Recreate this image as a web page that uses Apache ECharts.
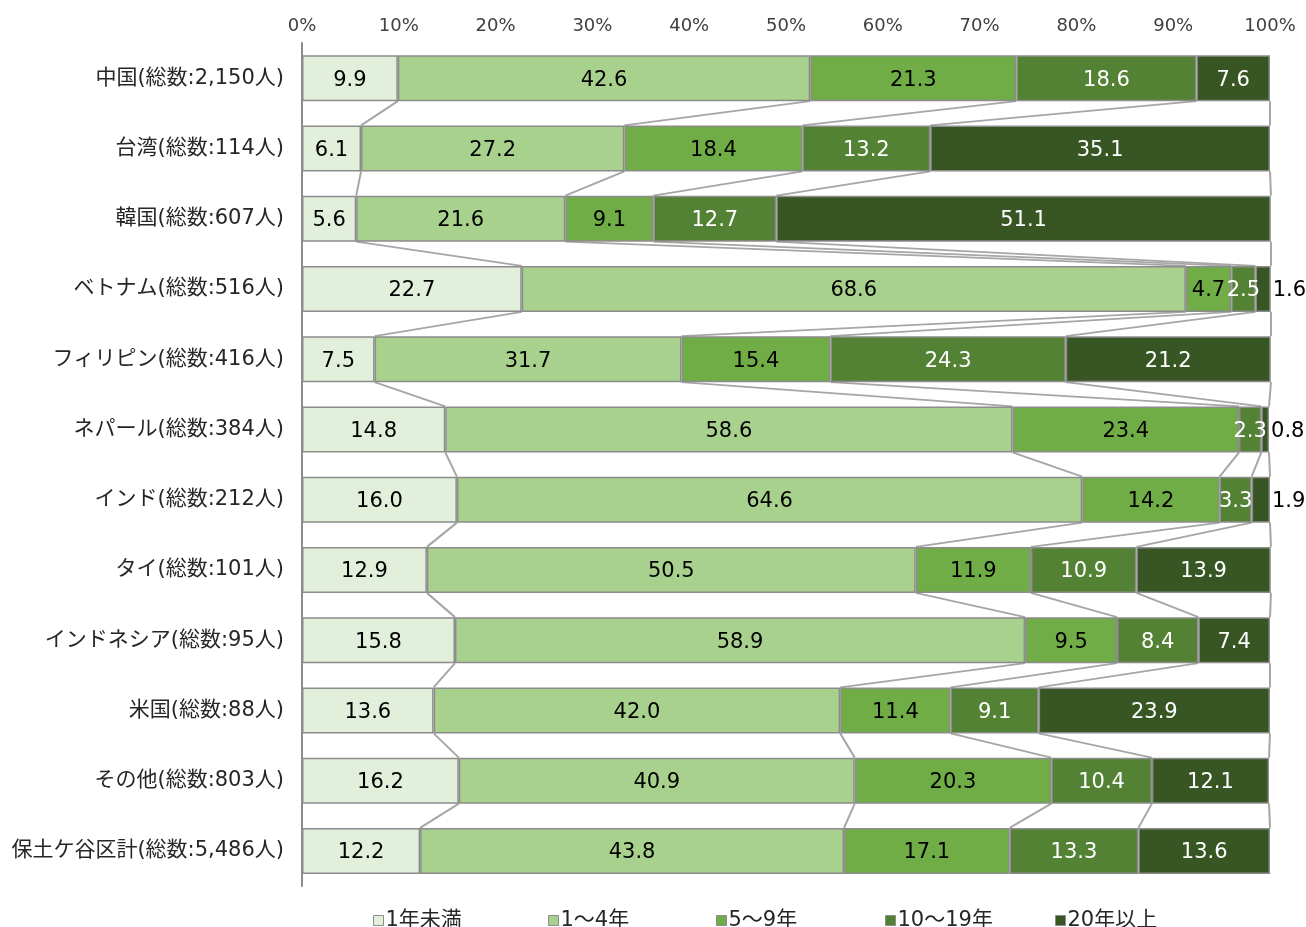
<!DOCTYPE html>
<html>
<head>
<meta charset="utf-8">
<script src="https://cdn.jsdelivr.net/npm/echarts@6/dist/echarts.min.js"></script>
<style>
  html, body { margin: 0; padding: 0; background: #fff; }
  #chart { width: 1306px; height: 927px; }
</style>
</head>
<body>
<div id="chart"></div>
<script>
// 在留期間別の構成比（％）
const categories = [
  '中国(総数:2,150人)', '台湾(総数:114人)', '韓国(総数:607人)', 'ベトナム(総数:516人)',
  'フィリピン(総数:416人)', 'ネパール(総数:384人)', 'インド(総数:212人)', 'タイ(総数:101人)',
  'インドネシア(総数:95人)', '米国(総数:88人)', 'その他(総数:803人)', '保土ケ谷区計(総数:5,486人)'
];
const seriesNames = ['1年未満', '1～4年', '5～9年', '10～19年', '20年以上'];
const lessThan1 = [9.9, 6.1, 5.6, 22.7, 7.5, 14.8, 16.0, 12.9, 15.8, 13.6, 16.2, 12.2];
const y1to4    = [42.6, 27.2, 21.6, 68.6, 31.7, 58.6, 64.6, 50.5, 58.9, 42.0, 40.9, 43.8];
const y5to9    = [21.3, 18.4, 9.1, 4.7, 15.4, 23.4, 14.2, 11.9, 9.5, 11.4, 20.3, 17.1];
const y10to19  = [18.6, 13.2, 12.7, 2.5, 24.3, 2.3, 3.3, 10.9, 8.4, 9.1, 10.4, 13.3];
const y20plus  = [7.6, 35.1, 51.1, 1.6, 21.2, 0.8, 1.9, 13.9, 7.4, 23.9, 12.1, 13.6];
const xTicks = [0, 10, 20, 30, 40, 50, 60, 70, 80, 90, 100];

const allValues = [lessThan1, y1to4, y5to9, y10to19, y20plus];
const colors = ['#E2EFDA', '#A9D18E', '#70AD47', '#548235', '#375623'];
const labelColors = ['#000', '#000', '#000', '#fff', '#fff'];
// rows whose last segment is too narrow: label sits outside the bar end
const outsideLast = new Set([3, 5, 6]);

const BAR_W = 46;
const TEXT_FONT = 'DejaVu Sans, Noto Sans CJK JP, sans-serif';

const barSeries = allValues.map((vals, s) => ({
  name: seriesNames[s],
  type: 'bar',
  stack: 'total',
  barWidth: BAR_W,
  itemStyle: { color: colors[s], borderColor: '#8C8C8C', borderWidth: 1.5 },
  label: {
    show: true,
    position: 'inside',
    color: labelColors[s],
    fontFamily: 'DejaVu Sans',
    fontSize: 21,
    offset: [0, 2],
    formatter: p => p.value.toFixed(1)
  },
  data: vals.map((v, i) => (s === 4 && outsideLast.has(i))
    ? { value: v, label: { position: 'right', distance: 2, color: '#000' } }
    : v)
}));

// connector lines between the segment boundaries of neighbouring bars
const cumulative = categories.map((_, i) => {
  let acc = 0;
  return allValues.map(vals => (acc += vals[i]));
});
const connectorData = [];
for (let i = 0; i < categories.length - 1; i++) {
  for (let k = 0; k < allValues.length; k++) {
    connectorData.push([cumulative[i][k], i, cumulative[i + 1][k], i + 1]);
  }
}

const connectorSeries = {
  type: 'custom',
  silent: true,
  z: 1,
  encode: { x: [0, 2], y: [1, 3] },
  data: connectorData,
  renderItem: (params, api) => {
    const a = api.coord([api.value(0), api.value(1)]);
    const b = api.coord([api.value(2), api.value(3)]);
    return {
      type: 'line',
      shape: { x1: a[0], y1: a[1] + BAR_W / 2, x2: b[0], y2: b[1] - BAR_W / 2 },
      style: { stroke: '#A6A6A6', lineWidth: 2 }
    };
  }
};

// one legend block per entry so the entries sit at even spacing
const legendLefts = [368, 543, 711, 880, 1050];
const legends = seriesNames.map((name, i) => ({
  data: [name],
  top: 905,
  left: legendLefts[i],
  icon: 'rect',
  itemWidth: 10,
  itemHeight: 10,
  itemGap: 0,
  itemStyle: { borderColor: '#8C8C8C', borderWidth: 1 },
  textStyle: {
    color: '#262626',
    fontFamily: TEXT_FONT,
    fontSize: 21,
    padding: [0, 0, 0, -3]
  }
}));

const chart = echarts.init(document.getElementById('chart'));
chart.setOption({
  animation: false,
  grid: { left: 302, right: 36, top: 43, bottom: 41, containLabel: false },
  xAxis: {
    type: 'value',
    position: 'top',
    min: 0,
    max: 100,
    interval: 10,
    axisLine: { show: false },
    axisTick: { show: false },
    splitLine: { show: false },
    axisLabel: {
      margin: 8,
      color: '#404040',
      fontFamily: 'DejaVu Sans',
      fontSize: 18,
      formatter: v => xTicks.includes(v) ? v + '%' : ''
    }
  },
  yAxis: {
    type: 'category',
    inverse: true,
    data: categories,
    axisLine: { show: true, lineStyle: { color: '#8C8C8C', width: 2 } },
    axisTick: { show: false },
    axisLabel: {
      margin: 18,
      color: '#262626',
      fontFamily: TEXT_FONT,
      fontSize: 21,
      padding: [6, 0, 0, 0]
    }
  },
  legend: legends,
  series: [connectorSeries, ...barSeries]
});
</script>
</body>
</html>
